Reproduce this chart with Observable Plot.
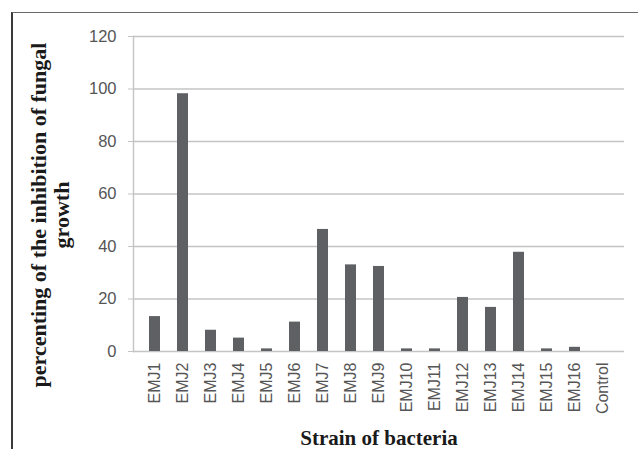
<!DOCTYPE html>
<html>
<head>
<meta charset="utf-8">
<script src="https://cdn.jsdelivr.net/npm/d3@7"></script>
<script src="https://cdn.jsdelivr.net/npm/@observablehq/plot@0.6"></script>
<style>
  html, body { margin: 0; padding: 0; background: #fff; overflow: hidden; }
  #wrap { position: relative; width: 638px; height: 449px; overflow: hidden; }
  #border { position: absolute; left: 11px; top: 12px; width: 1000px; height: 1000px;
            border-left: 2px solid #3a3a3a; border-top: 1.5px solid #6a6a6a; box-sizing: border-box; }
  #chart { position: absolute; left: 0; top: 0; }
</style>
</head>
<body>
<div id="wrap"><div id="border"></div><div id="chart"></div></div>
<script>
const strains = ["EMJ1","EMJ2","EMJ3","EMJ4","EMJ5","EMJ6","EMJ7","EMJ8","EMJ9","EMJ10","EMJ11","EMJ12","EMJ13","EMJ14","EMJ15","EMJ16","Control"];
const inhibition = [13.3, 98.2, 8.1, 5.1, 1.0, 11.2, 46.5, 33.0, 32.4, 1.0, 1.0, 20.6, 16.8, 37.8, 1.0, 1.6, 0];
const yTicks = [0, 20, 40, 60, 80, 100, 120];
const xTitle = "Strain of bacteria";
const yTitle = "percenting of the inhibition of fungal\ngrowth";

const data = strains.map((s, i) => ({strain: s, value: inhibition[i]}));

const chart = Plot.plot({
  width: 638,
  height: 449,
  marginLeft: 133,
  marginRight: 14,
  marginTop: 36,
  marginBottom: 98,
  style: {background: "transparent", overflow: "visible"},
  x: {domain: strains, paddingInner: 0.6, paddingOuter: 0.32, label: null},
  y: {domain: [0, 120], label: null},
  marks: [
    Plot.ruleY(yTicks, {stroke: "#c4c4c4", strokeWidth: 1.4}),
    Plot.frame({anchor: "left", stroke: "#c4c4c4", strokeWidth: 1.4}),
    Plot.barY(data, {x: "strain", y: "value", fill: "#5e6064"}),
    Plot.axisY({ticks: yTicks, tickSize: 5, tickPadding: 12, stroke: "#c4c4c4", strokeOpacity: 1,
      fontSize: 16.5, fontFamily: "Liberation Sans", fill: "#555", label: null}),
    Plot.axisX({tickSize: 0, tickPadding: 11, tickRotate: -90, fontSize: 16,
      fontFamily: "Liberation Sans", fill: "#555", label: null}),
    Plot.text([xTitle], {frameAnchor: "bottom", dx: 0, dy: 87, text: d => d,
      fontSize: 21, fontWeight: "bold", fontFamily: "Liberation Serif", fill: "#1a1a1a",
      textAnchor: "middle", lineAnchor: "middle"}),
    Plot.text([yTitle], {frameAnchor: "left", dx: -83, dy: 21, rotate: -90, text: d => d,
      fontSize: 22, fontWeight: "bold", fontFamily: "Liberation Serif", fill: "#1a1a1a",
      textAnchor: "middle", lineAnchor: "middle", lineHeight: 1.05})
  ]
});
document.getElementById("chart").appendChild(chart);
</script>
</body>
</html>
